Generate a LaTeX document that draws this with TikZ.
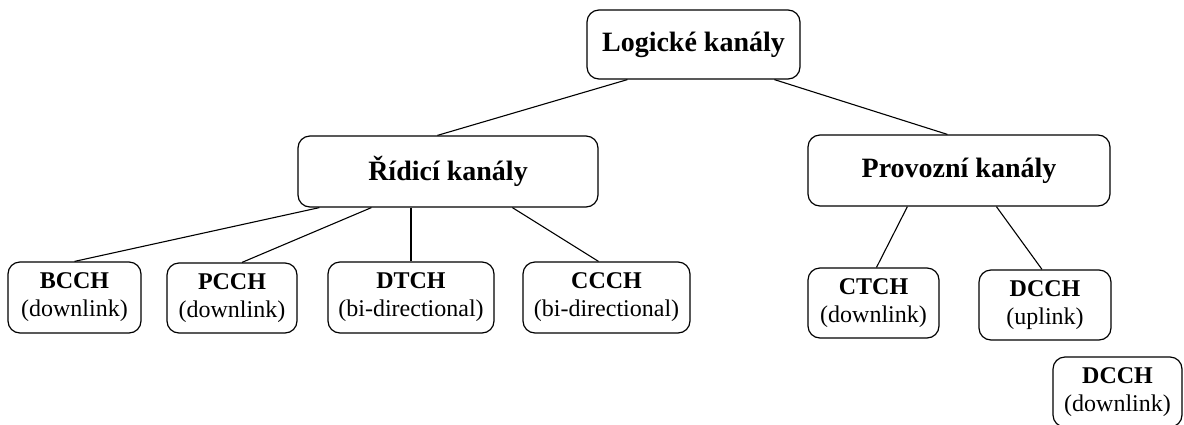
\documentclass[tikz,border=0pt]{standalone}
\usepackage{fontspec}
\setmainfont{Liberation Serif}
\usepackage{tikz}

\begin{document}
\begin{tikzpicture}[x=1pt,y=-1pt,
  box/.style={draw, rounded corners=12pt, line width=1.2pt, align=center, inner sep=0pt},
  big/.style={font=\fontsize{28}{32}\selectfont\bfseries},
  small/.style={font=\fontsize{24}{28}\selectfont},
  link/.style={black, line width=1.1pt}]
\useasboundingbox (0,0) rectangle (1184,424);
\node [box,big,minimum width=213pt,minimum height=69pt] (lk) at (693.5,44.5) {Logické kanály};
\node [box,big,minimum width=300pt,minimum height=71pt] (rk) at (448,171.5) {Řídicí kanály};
\node [box,big,minimum width=302pt,minimum height=71pt] (pk) at (959,170.5) {Provozní kanály};
\node [box,small,minimum width=133pt,minimum height=71pt] (bcch) at (74.5,297.5) {\textbf{BCCH}\\(downlink)};
\node [box,small,minimum width=130pt,minimum height=70pt] (pcch) at (232,298) {\textbf{PCCH}\\(downlink)};
\node [box,small,minimum width=166pt,minimum height=71pt] (dtch) at (411,297.5) {\textbf{DTCH}\\(bi-directional)};
\node [box,small,minimum width=167pt,minimum height=71pt] (ccch) at (606.5,297.5) {\textbf{CCCH}\\(bi-directional)};
\node [box,small,minimum width=131pt,minimum height=70pt] (ctch) at (873.5,303) {\textbf{CTCH}\\(downlink)};
\node [box,small,minimum width=132pt,minimum height=70pt] (dcchu) at (1045,305) {\textbf{DCCH}\\(uplink)};
\node [box,small,minimum width=129pt,minimum height=70pt] (dcchd) at (1117.5,392) {\textbf{DCCH}\\(downlink)};
\draw [link] ([xshift=41pt]lk.south west) -- ([xshift=140pt]rk.north west);
\draw [link] ([xshift=188pt]lk.south west) -- ([xshift=140pt]pk.north west);
\draw [link] ([xshift=22pt]rk.south west) -- (bcch.north);
\draw [link] ([xshift=74pt]rk.south west) -- ([xshift=10pt]pcch.north);
\draw [link] (dtch.north |- rk.south) -- (dtch.north);
\draw [link] ([xshift=215pt]rk.south west) -- ([xshift=-8pt]ccch.north);
\draw [link] ([xshift=100pt]pk.south west) -- ([xshift=3pt]ctch.north);
\draw [link] ([xshift=189pt]pk.south west) -- ([xshift=-3pt]dcchu.north);
\end{tikzpicture}
\end{document}
